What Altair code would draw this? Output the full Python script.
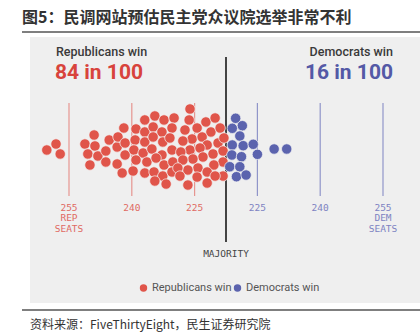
import altair as alt
import pandas as pd

# --- data (seat count on the Republican scale, vertical swarm offset) ---
rep_seats = [260.3, 258.1, 257.1, 251.2, 249.0, 248.8, 250.5, 248.1, 250.0, 246.2,
             245.4, 246.2, 243.5, 243.3, 241.9, 243.5, 242.3, 241.6, 241.6, 236.9,
             234.5, 232.3, 229.9, 239.0, 236.9, 234.9, 232.8, 230.4, 239.2, 236.9,
             234.9, 232.6, 230.9, 239.5, 237.3, 235.2, 232.8, 230.4, 239.0, 236.4,
             234.2, 232.3, 230.2, 239.7, 236.9, 234.7, 232.6, 230.4, 234.5, 226.1,
             226.3, 222.3, 220.1, 224.4, 227.3, 221.1, 218.9, 225.6, 223.2, 227.8,
             222.0, 219.4, 226.1, 223.7, 228.3, 220.6, 218.2, 223.0, 225.4, 227.8,
             218.2, 220.4, 224.2, 226.6, 229.0, 222.0, 218.2, 220.1, 224.4, 228.5,
             226.6, 222.0, 218.0, 231.8]
rep_offset = [-0.24, 1.19, -1.19, 1.19, 3.34, 0.72, -1.19, -1.67, -3.82, -0.48,
              2.15, -3.10, 0.48, 2.87, 5.01, -3.58, -5.73, -1.43, 1.43, 6.93,
              7.88, 6.93, 7.40, 4.78, 4.06, 5.25, 4.06, 5.01, 2.15, 1.67,
              2.87, 1.67, 2.63, -0.24, -0.96, 0.00, -1.43, -0.24, -2.63, -3.10,
              -2.15, -3.82, -3.10, -5.25, -5.73, -5.49, -6.45, -5.49, -7.64, 9.55,
              6.93, 6.45, 7.40, 5.01, 4.54, 4.06, 5.01, 2.39, 2.87, 1.91,
              0.96, 1.43, -0.24, 0.24, -0.72, -1.19, -0.48, -1.91, -2.39, -2.63,
              -3.10, -3.82, -4.54, -5.01, -4.54, -5.49, -6.45, -6.45, -6.69, -6.45,
              -8.60, -8.12, 2.63, -8.36]
dem_seats = [215.2, 213.6, 216.0, 214.2, 216.0, 213.4, 211.0, 210.0, 216.1, 213.8,
             206.0, 203.0, 216.6, 214.2, 215.0, 212.7]
dem_offset = [7.33, 5.56, 4.94, 3.10, 0.96, 0.79, 1.12, -1.27, -1.43, -1.84,
              0.00, 0.00, -4.23, -4.23, -6.61, -6.21]

parties = ["Republicans win", "Democrats win"]
win_counts = ["84 in 100", "16 in 100"]
rep_tick_seats = [255, 240, 225]
rep_tick_labels = ["255\nREP\nSEATS", "240", "225"]
dem_tick_seats = [210, 195, 180]
dem_tick_labels = ["225", "240", "255\nDEM\nSEATS"]
majority_seat = [217.5]
majority_label = ["MAJORITY"]

title_text = "图5：民调网站预估民主党众议院选举非常不利"
source_text = "资料来源：FiveThirtyEight，民生证券研究院"

RED = "#e0554a"
BLUE = "#5b63ae"

dots = pd.DataFrame({
    "seat": rep_seats + dem_seats,
    "offset": rep_offset + dem_offset,
    "party": [parties[0]] * len(rep_seats) + [parties[1]] * len(dem_seats),
})
rep_ticks = pd.DataFrame({"seat": rep_tick_seats, "label": rep_tick_labels})
dem_ticks = pd.DataFrame({"seat": dem_tick_seats, "label": dem_tick_labels})
maj = pd.DataFrame({"seat": majority_seat, "label": majority_label})

xs = alt.Scale(domain=[180, 255], range=[383, 69], nice=False, zero=False)
ys = alt.Scale(domain=[-10, 10], range=[190.9, 107.1], nice=False, zero=False)


def X():
    return alt.X("seat:Q", scale=xs, axis=None)


base = alt.Chart(pd.DataFrame({"k": [0]}))

panel = base.mark_rect(color="#efefef").encode(
    x=alt.value(30), x2=alt.value(420), y=alt.value(37), y2=alt.value(303))
top_line = base.mark_rule(color="#555555", strokeWidth=1.5).encode(
    x=alt.value(22), x2=alt.value(420), y=alt.value(32))
bottom_line = base.mark_rule(color="#555555", strokeWidth=1.5).encode(
    x=alt.value(22), x2=alt.value(420), y=alt.value(310))
title = base.mark_text(text=title_text, font="Noto Sans CJK SC", fontSize=16,
                       fontWeight="bold", align="left", baseline="middle",
                       color="#333333").encode(x=alt.value(22), y=alt.value(18))
source = base.mark_text(text=source_text, font="Noto Sans CJK SC", fontSize=12,
                        align="left", baseline="middle",
                        color="#333333").encode(x=alt.value(30), y=alt.value(325))

rep_rules = alt.Chart(rep_ticks).mark_rule(color="#e69590", strokeWidth=1.2).encode(
    x=X(), y=alt.value(103), y2=alt.value(196))
dem_rules = alt.Chart(dem_ticks).mark_rule(color="#9095c9", strokeWidth=1.2).encode(
    x=X(), y=alt.value(103), y2=alt.value(196))
rep_lbl = alt.Chart(rep_ticks).mark_text(font="DejaVu Sans Mono", fontSize=9.5,
                                         baseline="top", lineBreak="\n", lineHeight=10.8,
                                         color="#e06a63").encode(
    x=X(), y=alt.value(202.5), text="label:N")
dem_lbl = alt.Chart(dem_ticks).mark_text(font="DejaVu Sans Mono", fontSize=9.5,
                                         baseline="top", lineBreak="\n", lineHeight=10.8,
                                         color="#7d83c2").encode(
    x=X(), y=alt.value(202.5), text="label:N")

majority = alt.Chart(maj).mark_rule(color="#444444", strokeWidth=2).encode(
    x=X(), y=alt.value(57), y2=alt.value(242))
majority_lbl = alt.Chart(maj).mark_text(font="DejaVu Sans Mono", fontSize=9.5,
                                        baseline="middle", color="#444444").encode(
    x=X(), y=alt.value(254), text="label:N")

swarm = alt.Chart(dots).mark_circle(size=108, opacity=1, stroke="#f3f3f3",
                                    strokeWidth=0.7).encode(
    x=X(),
    y=alt.Y("offset:Q", scale=ys, axis=None),
    color=alt.Color("party:N", scale=alt.Scale(domain=parties, range=[RED, BLUE]),
                    legend=None),
)

rep_head = base.mark_text(text=parties[0], font="Roboto", fontSize=12.5, fontWeight=500,
                          align="left", baseline="middle", color="#3a3a3a").encode(
    x=alt.value(56), y=alt.value(52))
rep_num = base.mark_text(text=win_counts[0], font="Roboto", fontSize=21, fontWeight="bold",
                         align="left", baseline="middle", color="#d8433c").encode(
    x=alt.value(55), y=alt.value(73))
dem_head = base.mark_text(text=parties[1], font="Roboto", fontSize=12.5, fontWeight=500,
                          align="right", baseline="middle", color="#3a3a3a").encode(
    x=alt.value(393), y=alt.value(52))
dem_num = base.mark_text(text=win_counts[1], font="Roboto", fontSize=21, fontWeight="bold",
                         align="right", baseline="middle", color="#5459a6").encode(
    x=alt.value(393), y=alt.value(73))

leg_rep_dot = base.mark_circle(size=55, opacity=1, color=RED).encode(
    x=alt.value(143.5), y=alt.value(288))
leg_rep_txt = base.mark_text(text=parties[0], font="Roboto", fontSize=11, align="left",
                             baseline="middle", color="#555555").encode(
    x=alt.value(152), y=alt.value(288))
leg_dem_dot = base.mark_circle(size=55, opacity=1, color=BLUE).encode(
    x=alt.value(237.5), y=alt.value(288))
leg_dem_txt = base.mark_text(text=parties[1], font="Roboto", fontSize=11, align="left",
                             baseline="middle", color="#555555").encode(
    x=alt.value(246), y=alt.value(288))

chart = alt.layer(
    panel, top_line, bottom_line, title, source,
    rep_rules, dem_rules, rep_lbl, dem_lbl,
    majority, majority_lbl, swarm,
    rep_head, rep_num, dem_head, dem_num,
    leg_rep_dot, leg_rep_txt, leg_dem_dot, leg_dem_txt,
).properties(
    width=420, height=336,
    autosize=alt.AutoSizeParams(type="none"),
    padding=0,
    background="#ffffff",
).configure_view(stroke=None)

chart.save("out.html", embed_options={"renderer": "svg", "actions": False})
